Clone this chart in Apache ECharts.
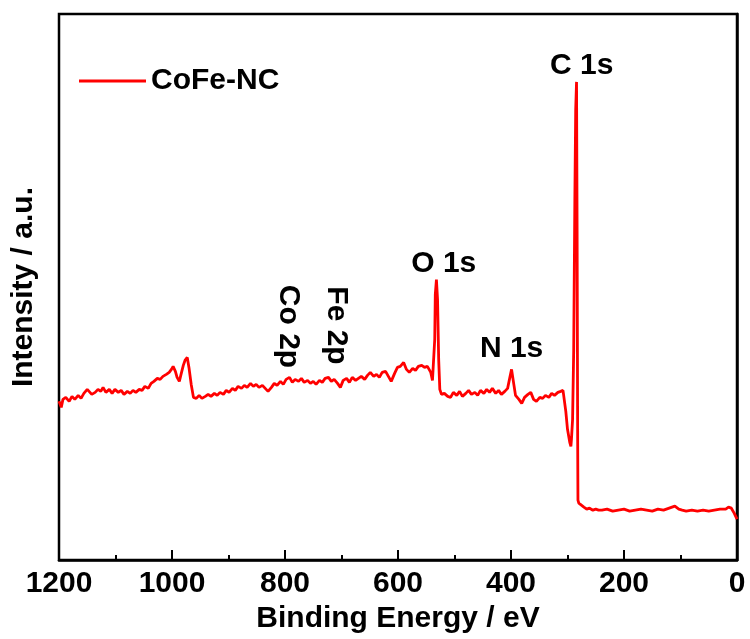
<!DOCTYPE html>
<html>
<head>
<meta charset="utf-8">
<script src="https://cdn.jsdelivr.net/npm/echarts@6/dist/echarts.min.js"></script>
<style>
  html, body { margin: 0; padding: 0; background: #fff; }
  #chart { width: 750px; height: 639px; }
</style>
</head>
<body>
<div id="chart"></div>
<script>
// XPS survey spectrum of CoFe-NC: binding energy (eV) and intensity (a.u.)
const bindingEnergy = [
  1200, 1196, 1193, 1188, 1182, 1177, 1172, 1166, 1161, 1156, 1150, 1147, 1142, 1136, 1131, 1126,
  1122, 1117, 1111, 1106, 1101, 1095, 1090, 1085, 1079, 1074, 1069, 1064, 1058, 1053, 1048, 1042,
  1037, 1032, 1026, 1021, 1016, 1010, 1005, 1001, 998, 994, 991, 987, 984, 980, 977, 973,
  970, 966, 962, 957, 952, 947, 941, 936, 931, 925, 920, 915, 909, 904, 899, 893,
  888, 883, 877, 872, 867, 861, 856, 851, 846, 840, 835, 830, 824, 819, 814, 808,
  803, 798, 792, 787, 782, 776, 771, 766, 760, 755, 750, 745, 739, 734, 729, 723,
  718, 713, 707, 702, 697, 691, 686, 681, 675, 670, 665, 659, 654, 649, 643, 638,
  633, 628, 622, 617, 612, 606, 601, 596, 590, 585, 580, 574, 569, 564, 558, 553,
  548, 542, 539, 535, 534, 532, 530, 528, 526, 523, 518, 512, 507, 502, 496, 491,
  486, 480, 475, 470, 464, 459, 454, 448, 443, 438, 433, 427, 422, 417, 411, 406,
  402, 399, 395, 392, 386, 381, 376, 370, 365, 360, 355, 349, 344, 339, 333, 328,
  323, 317, 312, 308, 307, 303, 300, 296, 294, 293, 291, 289, 287, 285.5, 284, 283,
  282, 281.5, 280, 277, 271, 266, 261, 255, 250, 245, 239, 230, 220, 210, 200, 190,
  180, 170, 160, 150, 140, 130, 120, 110, 103, 97, 90, 80, 70, 60, 50, 40,
  30, 20, 15, 10, 5, 0
];
const intensity = [
  159, 153, 161, 163, 159, 164, 161, 165, 162, 167, 171, 173, 166, 168, 171, 169,
  173, 168, 171, 167, 171, 168, 170, 166, 169, 167, 170, 168, 171, 170, 174, 172,
  177, 179, 182, 181, 184, 186, 188, 191, 194, 189, 183, 179, 186, 195, 200, 203,
  193, 176, 163, 162, 165, 162, 164, 166, 164, 167, 165, 168, 166, 170, 168, 172,
  170, 174, 172, 175, 173, 177, 174, 176, 173, 175, 172, 169, 173, 177, 175, 179,
  176, 181, 183, 178, 181, 179, 182, 178, 180, 177, 179, 176, 180, 178, 182, 183,
  179, 181, 177, 173, 180, 182, 178, 183, 180, 182, 184, 181, 185, 188, 184, 186,
  183, 188, 189, 184, 179, 187, 193, 194, 198, 191, 188, 192, 190, 194, 195, 193,
  194, 188, 180, 221, 266, 281, 261, 201, 171, 166, 167, 164, 163, 168, 165, 169,
  164, 167, 170, 166, 168, 165, 170, 167, 171, 168, 172, 167, 170, 166, 169, 172,
  183, 191, 176, 165, 161, 157, 163, 166, 168, 161, 159, 163, 162, 165, 163, 167,
  165, 168, 169, 170, 166, 149, 131, 118, 114, 121, 141, 211, 361, 451, 479, 330,
  120, 60, 57, 55, 53, 51, 52, 50, 51, 50, 50, 51, 49, 50, 51, 49,
  50, 51, 50, 49, 51, 50, 52, 54, 51, 50, 49, 50, 49, 50, 49, 50,
  51, 51, 53, 52, 47, 41
];

// Peak assignments: text, label anchor energy, label anchor intensity, rotation
const peakNames = ['C 1s', 'O 1s', 'N 1s', 'Co 2p', 'Fe 2p'];
const peakLabelEnergy = [275, 519, 399, 794, 709];
const peakLabelIntensity = [495, 297, 212, 234, 235];
const peakLabelRotate = [0, 0, 0, -90, -90];

const xTickInterval = 200;
const seriesName = 'CoFe-NC';

const FONT = "'Liberation Sans', Arial, Helvetica, sans-serif";

const spectrum = bindingEnergy.map((e, i) => [e, intensity[i]]);
const peakPoints = peakNames.map((name, i) => ({
  name: name,
  value: [peakLabelEnergy[i], peakLabelIntensity[i]],
  label: { rotate: peakLabelRotate[i] }
}));

const chart = echarts.init(document.getElementById('chart'), null, { renderer: 'canvas' });

chart.setOption({
  animation: false,
  backgroundColor: '#ffffff',
  grid: {
    left: 59, right: 13, top: 14, bottom: 78,
    show: true,
    borderColor: '#000',
    borderWidth: 2.5,
    backgroundColor: 'transparent'
  },
  legend: {
    data: [seriesName],
    left: 74,
    top: 61,
    icon: 'rect',
    itemWidth: 67,
    itemHeight: 3,
    textStyle: { fontFamily: FONT, fontSize: 30, fontWeight: 'bold', color: '#000' }
  },
  xAxis: {
    type: 'value',
    inverse: true,
    min: 0,
    max: 1200,
    interval: xTickInterval,
    name: 'Binding Energy / eV',
    nameLocation: 'middle',
    nameGap: 38,
    nameTextStyle: { fontFamily: FONT, fontSize: 30, fontWeight: 'bold', color: '#000' },
    axisLine: { show: true, lineStyle: { color: '#000', width: 2.5 } },
    axisTick: { show: true, inside: true, length: 10, lineStyle: { color: '#000', width: 2 } },
    minorTick: { show: true, splitNumber: 2, length: 5, lineStyle: { color: '#000', width: 2 } },
    axisLabel: {
      fontFamily: FONT, fontSize: 30, fontWeight: 'bold', color: '#000', margin: 9,
      formatter: v => String(v)
    },
    splitLine: { show: false }
  },
  yAxis: {
    type: 'value',
    min: 0,
    max: 547,
    name: 'Intensity / a.u.',
    nameLocation: 'middle',
    nameGap: 20,
    nameTextStyle: { fontFamily: FONT, fontSize: 30, fontWeight: 'bold', color: '#000' },
    axisLine: { show: true, lineStyle: { color: '#000', width: 2.5 } },
    axisTick: { show: false },
    axisLabel: { show: false },
    splitLine: { show: false }
  },
  series: [
    {
      name: seriesName,
      type: 'line',
      data: spectrum,
      showSymbol: false,
      symbol: 'none',
      lineStyle: { color: '#ff0000', width: 2.8 },
      itemStyle: { color: '#ff0000' },
      z: 3
    },
    {
      name: 'peaks',
      type: 'scatter',
      data: peakPoints,
      symbolSize: 0,
      silent: true,
      itemStyle: { opacity: 1, color: '#000' },
      label: {
        show: true,
        position: 'inside',
        formatter: p => p.name,
        fontFamily: FONT,
        fontSize: 30,
        fontWeight: 'bold',
        color: '#000000',
        opacity: 1,
        textBorderWidth: 0
      },
      z: 4
    }
  ]
});
</script>
</body>
</html>
